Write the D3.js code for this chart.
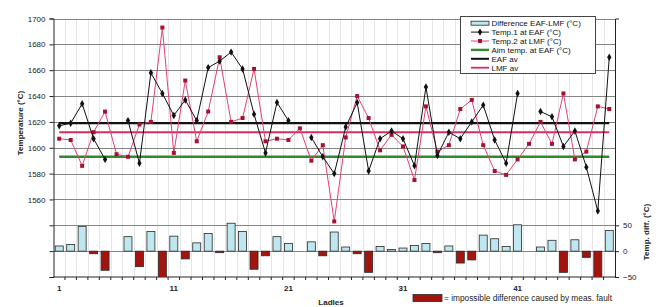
<!DOCTYPE html>
<html lang="en">
<head>
<meta charset="UTF-8">
<title>EAF / LMF temperatures</title>
<script src="https://d3js.org/d3.v7.min.js"></script>
<style>
    body { margin: 0; background: #fff; }
    svg { display: block; font-family: "Liberation Sans", Arial, sans-serif; }
</style>
</head>
<body>
<script>
    // Data
    const ladles = d3.range(1, 50);
    const eafTemp = [1617, 1619, 1634, 1607, 1591, null, 1621, 1588, 1658, 1642,
        1625, 1637, 1621, 1662, 1667, 1674, 1661, 1626, 1596, 1635,
        1621, null, 1608, 1593, 1580, 1616, 1635, 1582, 1607, 1613,
        1607, 1586, 1647, 1594, 1612, 1607, 1620, 1633, 1606, 1588,
        1642, null, 1628, 1624, 1601, 1613, 1585, 1551, 1670];
    const lmfTemp = [1607, 1606, 1586, 1612, 1628, 1595, 1593, 1618, 1620, 1693,
        1596, 1652, 1605, 1628, 1670, 1620, 1623, 1661, 1605, 1607,
        1606, 1615, 1590, 1602, 1543, 1608, 1640, 1623, 1598, 1610,
        1601, 1575, 1632, 1597, 1602, 1630, 1637, 1602, 1582, 1579,
        1591, 1603, 1620, 1603, 1642, 1591, 1597, 1632, 1630];
    const aimTemp = 1593;
    const eafAvg = 1619;
    const lmfAvg = 1612;
    const tempTicks = d3.range(1500, 1701, 20);
    const tempLabels = [1560, 1580, 1600, 1620, 1640, 1660, 1680, 1700];
    const diffTicks = [-50, 0, 50];
    const xLabels = [1, 11, 21, 31, 41];
    const legendItems = ["Difference EAF-LMF (°C)", "Temp.1 at EAF (°C)", "Temp.2 at LMF (°C)",
        "Aim temp. at EAF (°C)", "EAF av", "LMF av"];

    const rows = ladles.map((l, i) => ({
        ladle: l,
        eaf: eafTemp[i],
        lmf: lmfTemp[i],
        diff: eafTemp[i] == null || lmfTemp[i] == null ? null : eafTemp[i] - lmfTemp[i]
    }));

    const width = 661, height = 307;
    const mLeft = 53.5, mRight = 615, mTop = 18.5, mBottom = 277;

    const svg = d3.select("body").append("svg")
        .attr("width", width)
        .attr("height", height);

    const x = d3.scaleBand().domain(ladles).range([mLeft, mRight]);
    const yT = d3.scaleLinear().domain([1500, 1700]).range([mBottom, mTop]);
    const yD = d3.scaleLinear().domain([-50, 450]).range([mBottom, mTop]);
    const cx = d => x(d.ladle) + x.bandwidth() / 2;

    svg.append("defs").append("clipPath").attr("id", "plot")
        .append("rect").attr("x", mLeft).attr("y", mTop)
        .attr("width", mRight - mLeft).attr("height", mBottom - mTop);

    // faint vertical grid at ladle boundaries
    svg.append("g").selectAll("line")
        .data(ladles.slice(1))
        .join("line")
        .attr("x1", d => Math.round(x(d)) + 0.5).attr("x2", d => Math.round(x(d)) + 0.5)
        .attr("y1", mTop).attr("y2", mBottom)
        .attr("stroke", "#e6e6e6");

    // horizontal grid
    svg.append("g").selectAll("line")
        .data(tempTicks.slice(1))
        .join("line")
        .attr("x1", mLeft).attr("x2", mRight)
        .attr("y1", d => Math.round(yT(d)) + 0.5).attr("y2", d => Math.round(yT(d)) + 0.5)
        .attr("stroke", "#858585");

    // left axis
    const axL = svg.append("g")
        .attr("transform", `translate(${mLeft},0)`)
        .call(d3.axisLeft(yT).tickValues(tempTicks).tickSize(4)
            .tickFormat(d => tempLabels.includes(d) ? d : ""));
    axL.select(".domain").attr("stroke", "#222");
    axL.selectAll(".tick line").attr("stroke", "#222");
    axL.selectAll("text").attr("font-size", 8).attr("fill", "#222").attr("dx", -1);

    // right axis
    const axR = svg.append("g")
        .attr("transform", `translate(${mRight},0)`)
        .call(d3.axisRight(yD).tickValues(diffTicks).tickSize(4));
    axR.select(".domain").attr("stroke", "#222");
    axR.selectAll(".tick line").attr("stroke", "#222");
    axR.selectAll("text").attr("font-size", 8).attr("fill", "#222").attr("dx", 1);

    // bottom axis with ticks at ladle boundaries
    svg.append("line")
        .attr("x1", mLeft).attr("x2", mRight).attr("y1", mBottom).attr("y2", mBottom)
        .attr("stroke", "#222");
    svg.append("g").selectAll("line")
        .data(ladles.slice(1))
        .join("line")
        .attr("x1", d => x(d)).attr("x2", d => x(d))
        .attr("y1", mBottom).attr("y2", mBottom + 3)
        .attr("stroke", "#222");
    svg.append("g").selectAll("text")
        .data(xLabels)
        .join("text")
        .attr("x", d => x(d) + x.bandwidth() / 2)
        .attr("y", 291)
        .attr("text-anchor", "middle")
        .attr("font-size", 8)
        .attr("font-weight", "bold")
        .attr("fill", "#222")
        .text(d => d);

    // difference bars
    const bw = 8;
    svg.append("g").attr("clip-path", "url(#plot)")
        .selectAll("rect")
        .data(rows.filter(d => d.diff != null))
        .join("rect")
        .attr("x", d => cx(d) - bw / 2)
        .attr("y", d => yD(Math.max(0, d.diff)))
        .attr("width", bw)
        .attr("height", d => Math.abs(yD(d.diff) - yD(0)))
        .attr("fill", d => d.diff < 0 ? "#a3140f" : "#bfe7f0")
        .attr("stroke", "#2a2a2a")
        .attr("stroke-width", 0.8);

    // reference lines
    const refLine = (val, color, w) => svg.append("line")
        .attr("x1", cx(rows[0])).attr("x2", cx(rows[rows.length - 1]))
        .attr("y1", yT(val)).attr("y2", yT(val))
        .attr("stroke", color).attr("stroke-width", w);
    refLine(aimTemp, "#2f8a2f", 2.4);
    refLine(eafAvg, "#111", 2.2);
    refLine(lmfAvg, "#d62f5f", 1.8);

    // LMF series
    svg.append("path")
        .datum(rows)
        .attr("fill", "none")
        .attr("stroke", "#e0407a")
        .attr("stroke-width", 1)
        .attr("d", d3.line().defined(d => d.lmf != null).x(cx).y(d => yT(d.lmf)));
    svg.append("g").selectAll("rect")
        .data(rows.filter(d => d.lmf != null))
        .join("rect")
        .attr("x", d => cx(d) - 2)
        .attr("y", d => yT(d.lmf) - 2)
        .attr("width", 4).attr("height", 4)
        .attr("fill", "#a3122e");

    // EAF series
    svg.append("path")
        .datum(rows)
        .attr("fill", "none")
        .attr("stroke", "#111")
        .attr("stroke-width", 1)
        .attr("d", d3.line().defined(d => d.eaf != null).x(cx).y(d => yT(d.eaf)));
    svg.append("g").selectAll("path")
        .data(rows.filter(d => d.eaf != null))
        .join("path")
        .attr("transform", d => `translate(${cx(d)},${yT(d.eaf)})`)
        .attr("d", d3.symbol(d3.symbolDiamond, 16))
        .attr("fill", "#111");

    // axis titles
    svg.append("text")
        .attr("transform", "translate(23,123) rotate(-90)")
        .attr("text-anchor", "middle")
        .attr("font-size", 8).attr("font-weight", "bold").attr("fill", "#222")
        .text("Temperature (°C)");
    svg.append("text")
        .attr("transform", "translate(649,232) rotate(-90)")
        .attr("text-anchor", "middle")
        .attr("font-size", 8).attr("font-weight", "bold").attr("fill", "#222")
        .text("Temp. diff. (°C)");
    svg.append("text")
        .attr("x", 331).attr("y", 305)
        .attr("text-anchor", "middle")
        .attr("font-size", 8).attr("font-weight", "bold").attr("fill", "#222")
        .text("Ladles");

    // bottom note
    svg.append("rect")
        .attr("x", 413).attr("y", 294.5).attr("width", 29).attr("height", 7)
        .attr("fill", "#a3140f").attr("stroke", "#2a2a2a").attr("stroke-width", 0.8);
    svg.append("text")
        .attr("x", 444).attr("y", 301)
        .attr("font-size", 8.3).attr("fill", "#222")
        .text("= impossible difference caused by meas. fault");

    // legend
    const lg = svg.append("g");
    lg.append("rect")
        .attr("x", 460.5).attr("y", 16.5).attr("width", 135).attr("height", 57)
        .attr("fill", "#fff").attr("stroke", "#444");
    const ly = i => 23.2 + i * 8.9;
    const sx1 = 471, sx2 = 489;
    lg.append("rect").attr("x", sx1).attr("y", ly(0) - 2).attr("width", sx2 - sx1).attr("height", 4)
        .attr("fill", "#bfe7f0").attr("stroke", "#2a2a2a").attr("stroke-width", 0.8);
    lg.append("line").attr("x1", sx1).attr("x2", sx2).attr("y1", ly(1)).attr("y2", ly(1))
        .attr("stroke", "#111");
    lg.append("path").attr("transform", `translate(${(sx1 + sx2) / 2},${ly(1)})`)
        .attr("d", d3.symbol(d3.symbolDiamond, 16)).attr("fill", "#111");
    lg.append("line").attr("x1", sx1).attr("x2", sx2).attr("y1", ly(2)).attr("y2", ly(2))
        .attr("stroke", "#e0407a");
    lg.append("rect").attr("x", (sx1 + sx2) / 2 - 2).attr("y", ly(2) - 2).attr("width", 4).attr("height", 4)
        .attr("fill", "#a3122e");
    [["#2f8a2f", 2.4], ["#111", 2], ["#d62f5f", 1.8]].forEach((s, i) => {
        lg.append("line").attr("x1", sx1).attr("x2", sx2).attr("y1", ly(i + 3)).attr("y2", ly(i + 3))
            .attr("stroke", s[0]).attr("stroke-width", s[1]);
    });
    lg.selectAll("text.item")
        .data(legendItems)
        .join("text")
        .attr("class", "item")
        .attr("x", 491.5)
        .attr("y", (d, i) => ly(i) + 3)
        .attr("font-size", 8)
        .attr("fill", "#111")
        .text(d => d);
</script>
</body>
</html>
